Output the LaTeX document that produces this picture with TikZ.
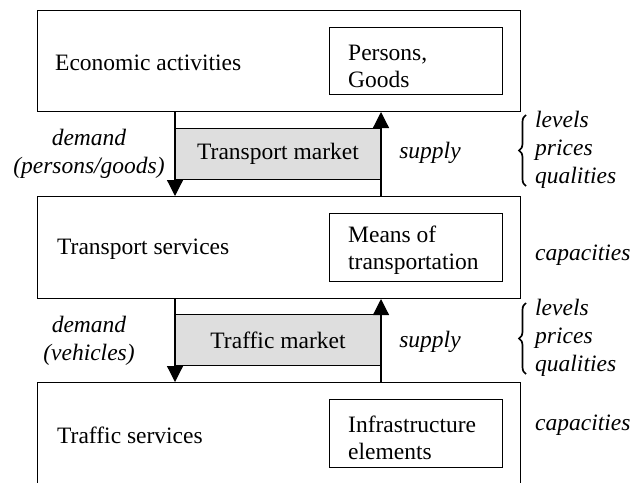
\documentclass[tikz,border=0pt]{standalone}
\usepackage{fontspec}
\setmainfont{Liberation Serif}
\usetikzlibrary{arrows.meta,decorations.pathreplacing}
\begin{document}
\begin{tikzpicture}[x=1pt,y=-1pt,
  txt/.style={font=\fontsize{23.5}{27}\selectfont, inner sep=0pt},
  itl/.style={font=\fontsize{23.5}{28}\selectfont\itshape, inner sep=0pt},
  box/.style={draw, line width=1pt, rectangle, inner sep=0pt, anchor=north west},
  market/.style={box, fill=black!13},
  arr/.style={line width=1.2pt, -{Triangle[width=16pt,length=16pt]}},
  brc/.style={decorate, decoration={brace, amplitude=7pt}, line width=1.7pt}]
\useasboundingbox (0,0) rectangle (631,482);
\begin{scope}
\clip (0,0) rectangle (631,482);
% main boxes
\node[box, minimum width=483pt, minimum height=101pt] (eco) at (37,10) {};
\node[box, minimum width=483pt, minimum height=102pt] (ts) at (37,196) {};
\node[box, minimum width=483pt, minimum height=110pt] (tr) at (37,382) {};
% inner boxes
\node[box, minimum width=173pt, minimum height=67pt] (pg) at (329,27) {};
\node[box, minimum width=173pt, minimum height=68pt] (mt) at (329,213) {};
\node[box, minimum width=173pt, minimum height=68pt] (ie) at (329,399) {};
% market boxes
\node[market, minimum width=205pt, minimum height=51pt] (tm) at (175,128) {};
\node[market, minimum width=205pt, minimum height=51pt] (fm) at (175,314) {};
\end{scope}
% texts in boxes
\node[txt, anchor=west] (ecot) at (55,63) {Economic activities};
\node[txt, anchor=west] (tst) at (57,249) {Transport services};
\node[txt, anchor=west] (trt) at (57,435) {Traffic services};
\node[txt, anchor=west, align=left] (pgt) at (348,66) {Persons,\\Goods};
\node[txt, anchor=west, align=left] (mtt) at (348,250) {Means of\\transportation};
\node[txt, anchor=west, align=left] (iet) at (348,438) {Infrastructure\\elements};
\node[txt] (tmt) at (tm.center) {Transport market};
\node[txt] (fmt) at (fm.center) {Traffic market};
% arrows
\draw[arr] (tm.west |- eco.south) -- (tm.west |- ts.north);
\draw[arr] (tm.east |- ts.north) -- (tm.east |- eco.south);
\draw[arr] (fm.west |- ts.south) -- (fm.west |- tr.north);
\draw[arr] (fm.east |- tr.north) -- (fm.east |- ts.south);
% labels
\node[itl, align=center] (d1) at (89,154) {demand\\(persons/goods)};
\node[itl, align=center] (d2) at (89,341) {demand\\(vehicles)};
\node[itl] (s1) at (430,153) {supply};
\node[itl] (s2) at (430,342) {supply};
\node[itl, anchor=west, align=left] (l1) at (535,150) {levels\\prices\\qualities};
\node[itl, anchor=west, align=left] (l2) at (535,338) {levels\\prices\\qualities};
\node[itl, anchor=west] (c1) at (535,255) {capacities};
\node[itl, anchor=west] (c2) at (535,425) {capacities};
% braces
\coordinate (b1t) at (526,115); \coordinate (b1b) at (526,186);
\coordinate (b2t) at (526,303); \coordinate (b2b) at (526,374);
\draw[brc] (b1b) -- (b1t);
\draw[brc] (b2b) -- (b2t);
\end{tikzpicture}
\end{document}
